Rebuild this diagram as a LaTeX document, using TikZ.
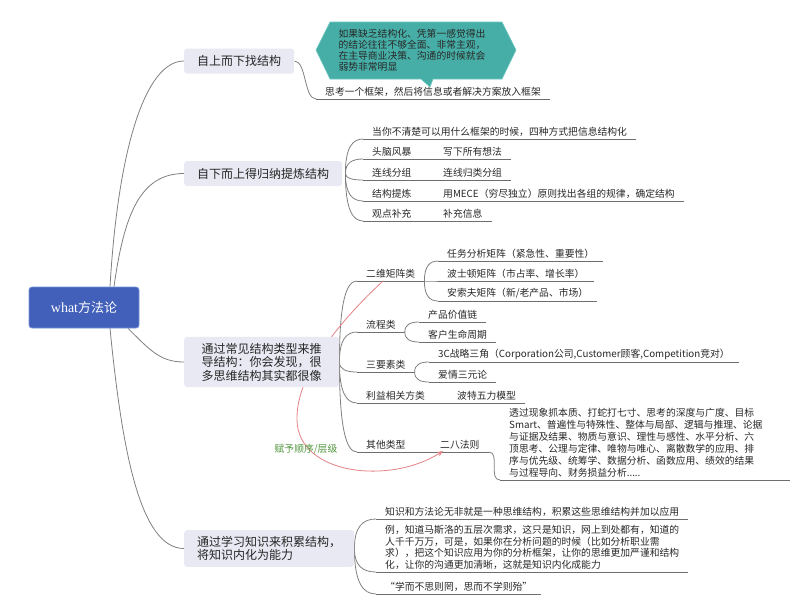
\documentclass[tikz,border=0pt]{standalone}
\usepackage{fontspec}
\setmainfont{Noto Sans CJK SC}
\newfontfamily\rootlatin{Liberation Serif}
\usetikzlibrary{arrows.meta,calc}
\definecolor{rootblue}{RGB}{66,96,186}
\definecolor{rootedge}{RGB}{120,145,215}
\definecolor{branchfill}{RGB}{232,233,242}
\definecolor{tealfill}{RGB}{70,174,166}
\definecolor{tealedge}{RGB}{110,200,192}
\definecolor{connc}{RGB}{128,128,128}
\definecolor{ulc}{RGB}{110,110,110}
\definecolor{redc}{RGB}{228,130,135}
\definecolor{greenc}{RGB}{80,150,60}
\definecolor{leafc}{RGB}{40,40,40}
\pgfdeclarelayer{bglayer}
\pgfdeclarelayer{linelayer}
\pgfsetlayers{bglayer,linelayer,main}
\newcommand{\leaffont}{\fontsize{9.8}{12}\selectfont}
\newcommand{\branchfont}{\fontsize{12}{13.5}\selectfont}
\begin{document}
\begin{tikzpicture}[x=1pt,y=-1pt,
  rootbox/.style={fill=rootblue, draw=rootedge, line width=0.8pt, rounded corners=3pt, minimum width=110pt, minimum height=41pt, text=white, font=\fontsize{13}{15}\selectfont},
  branch/.style={fill=branchfill, rounded corners=3pt, inner xsep=13pt, inner ysep=6pt, minimum height=25pt, anchor=west, align=left, text=black!85, font=\branchfont},
  leaf/.style={anchor=south west, inner xsep=9pt, inner ysep=2.5pt, text=leafc, font=\leaffont, align=left},
  conn/.style={draw=connc, line width=0.8pt},
  uline/.style={draw=ulc, line width=0.8pt},
  fan/.style={to path={.. controls ($(\tikztostart)!0.75!(\tikztostart|-\tikztotarget)$) and ($(\tikztotarget)!0.6!(\tikztostart|-\tikztotarget)$) .. (\tikztotarget)}},
  scurve/.style={to path={.. controls ($(\tikztostart)+(12,0)$) and ($(\tikztotarget)+(-12,0)$) .. (\tikztotarget)}},
  redline/.style={draw=redc, line width=0.8pt},
  greenlabel/.style={text=greenc, font=\leaffont},
]
\useasboundingbox (0,0) rectangle (800,614);
\begin{pgfonlayer}{bglayer}
\fill[white] (0,0) rectangle (800,614);
\end{pgfonlayer}

% root and branches
\node[rootbox] (root) at (84,307.5) {{\rootlatin\fontsize{14}{15}\selectfont what}方法论};
\node[branch] (b1) at (184,61) {自上而下找结构};
\node[branch] (b2) at (184,173.5) {自下而上得归纳提炼结构};
\node[branch, minimum width=155pt] (b3) at (184,362) {通过常见结构类型来推\\导结构：你会发现，很\\多思维结构其实都很像};
\node[branch] (b4) at (184,548.5) {通过学习知识来积累结构，\\将知识内化为能力};

% branch 1
\fill[tealfill, draw=tealedge, line width=0.6pt] (316,50) -- (330,22) -- (502,22) -- (516,50) -- (502,79) -- (433,79) -- (430,87) -- (421,79) -- (330,79) -- cycle;
\node[font=\fontsize{9.8}{11}\selectfont, text=leafc, align=left] (callout) at (412,50) {如果缺乏结构化、凭第一感觉得出\\的结论往往不够全面、非常主观，\\在主导商业决策、沟通的时候就会\\弱势非常明显};
\node[leaf] (c1) at (316,99) {思考一个框架，然后将信息或者解决方案放入框架};

% branch 2
\coordinate (o2) at ([xshift=3pt]b2.east);
\node[leaf] (n21) at (363,139) {当你不清楚可以用什么框架的时候，四种方式把信息结构化};
\node[leaf] (n22) at (363,159) {头脑风暴};
\node[leaf] (n22b) at (434,159) {写下所有想法};
\node[leaf] (n23) at (363,180) {连线分组};
\node[leaf] (n23b) at (434,180) {连线归类分组};
\node[leaf] (n24) at (363,201) {结构提炼};
\node[leaf] (n24b) at (434,201) {用MECE（穷尽独立）原则找出各组的规律，确定结构};
\node[leaf] (n25) at (363,221) {观点补充};
\node[leaf] (n25b) at (434,221) {补充信息};

% branch 3
\coordinate (o3) at (b3.east);
\node[leaf] (n31) at (357,281) {二维矩阵类};
\coordinate (f31) at (n31.south east);
\node[leaf] (n311) at (438,261) {任务分析矩阵（紧急性、重要性）};
\node[leaf] (n312) at (438,281) {波士顿矩阵（市占率、增长率）};
\node[leaf] (n313) at (438,301) {安索夫矩阵（新/老产品、市场）};
\node[leaf] (n32) at (357,332) {流程类};
\coordinate (f32) at (n32.south east);
\node[leaf] (n321) at (419,322) {产品价值链};
\node[leaf] (n322) at (419,342) {客户生命周期};
\node[leaf] (n33) at (357,372) {三要素类};
\coordinate (f33) at (n33.south east);
\node[leaf] (n331) at (429,362) {3C战略三角（Corporation公司,Customer顾客,Competition竞对）};
\node[leaf] (n332) at (429,382) {爱情三元论};
\node[leaf] (n34) at (357,403) {利益相关方类};
\node[leaf] (n34b) at (448,403) {波特五力模型};
\node[leaf] (n35) at (357,452) {其他类型};
\node[leaf] (n35b) at (431,452) {二八法则};
\node[leaf] (n35c) at (500,480) {透过现象抓本质、打蛇打七寸、思考的深度与广度、目标\\Smart、普遍性与特殊性、整体与局部、逻辑与推理、论据\\与证据及结果、物质与意识、理性与感性、水平分析、六\\顶思考、公理与定律、唯物与唯心、离散数学的应用、排\\序与优先级、统筹学、数据分析、函数应用、绩效的结果\\与过程导向、财务损益分析.....};
\node[greenlabel] (lbl) at (306,449) {赋予顺序/层级};

% branch 4
\coordinate (o4) at (b4.east);
\node[leaf] (n41) at (376,519) {知识和方法论无非就是一种思维结构，积累这些思维结构并加以应用};
\node[leaf, font=\fontsize{9.8}{11.5}\selectfont] (n42) at (376,572) {例，知道马斯洛的五层次需求，这只是知识，网上到处都有，知道的\\人千千万万，可是，如果你在分析问题的时候（比如分析职业需\\求），把这个知识应用为你的分析框架，让你的思维更加严谨和结构\\化，让你的沟通更加清晰，这就是知识内化成能力};
\node[leaf] (n43) at (376,594) {“学而不思则罔，思而不学则殆”};

\begin{pgfonlayer}{linelayer}
% root connectors
\draw[conn] ([xshift=26pt]root.north) .. controls (118,150) and (145,61) .. (b1.west);
\draw[conn] ([xshift=30pt]root.north) .. controls (124,215) and (140,173.5) .. (b2.west);
\draw[conn] ([xshift=44pt]root.south) .. controls (150,350) and (160,362) .. (b3.west);
\draw[conn] ([xshift=26pt]root.south) .. controls (122,450) and (140,548.5) .. (b4.west);
% branch 1
\draw[conn] (b1.east) to[scurve] (c1.south west);
\draw[uline] (c1.south west) -- (c1.south east);
% branch 2
\foreach \n in {n21,n22,n23,n24,n25}{\draw[conn] (o2) to[fan] (\n.south west);}
\draw[uline] (n21.south west) -- (n21.south east);
\foreach \n in {n22,n23,n24,n25}{\draw[uline] (\n.south west) -- (\n b.south east);}
% branch 3
\foreach \n in {n31,n32,n33,n34,n35}{\draw[conn] (o3) to[fan] (\n.south west);}
\foreach \n in {n31,n32,n33}{\draw[uline] (\n.south west) -- (\n.south east);}
\foreach \n in {n311,n312,n313}{\draw[conn] (f31) to[fan] (\n.south west); \draw[uline] (\n.south west) -- (\n.south east);}
\foreach \n in {n321,n322}{\draw[conn] (f32) to[fan] (\n.south west); \draw[uline] (\n.south west) -- (\n.south east);}
\foreach \n in {n331,n332}{\draw[conn] (f33) to[fan] (\n.south west); \draw[uline] (\n.south west) -- (\n.south east);}
\draw[uline] (n34.south west) -- (n34b.south east);
\draw[uline] (n35.south west) -- (n35b.south east);
\draw[conn] (n35b.south east) to[scurve] (n35c.south west);
\draw[uline] (n35c.south west) -- ([xshift=18pt]n35c.south east);
% branch 4
\foreach \n in {n41,n42,n43}{\draw[conn] (o4) to[fan] (\n.south west); \draw[uline] (\n.south west) -- (\n.south east);}
% red relation
\coordinate (redmid) at (297,420);
\draw[redline, -{Stealth[length=6pt,width=5pt]}] ([xshift=26pt]n31.south west) .. controls (330,330) and (296,380) .. (redmid) .. controls (298,475) and (390,485) .. ([xshift=12pt,yshift=1pt]n35b.south west);
\end{pgfonlayer}
\end{tikzpicture}
\end{document}
